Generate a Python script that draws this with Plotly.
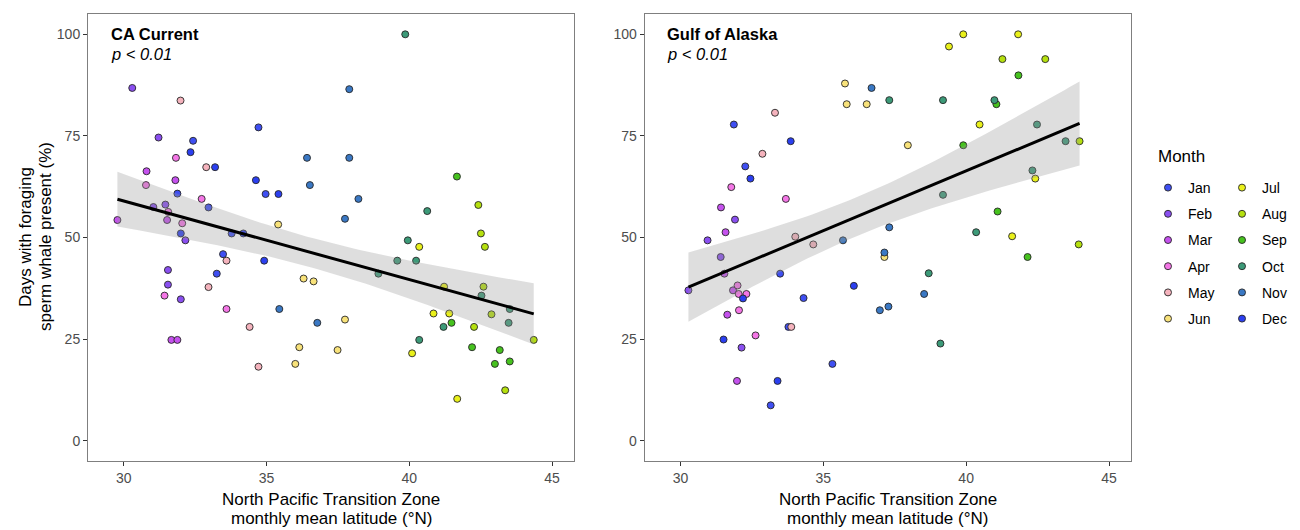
import numpy as np
import plotly.graph_objects as go

# ---------------- data ----------------
months = ["Jan", "Feb", "Mar", "Apr", "May", "Jun",
          "Jul", "Aug", "Sep", "Oct", "Nov", "Dec"]
month_colors = ["#3f4ff2", "#8a4ff0", "#c551ee", "#f476e6", "#f5b3bd", "#f8e27a",
                "#e9f01a", "#b5e00e", "#46c21e", "#3c9a78", "#3a78c4", "#2b3ff0"]

ca_lat = [30.30, 31.99, 31.22, 32.43, 32.34, 34.72, 31.83, 32.89, 33.20, 36.42,
          36.52, 30.80, 30.78, 31.81, 31.88, 32.73, 34.63, 34.97, 35.42, 32.97,
          31.04, 31.46, 31.56, 31.52, 32.05, 29.78, 35.41, 32.00, 32.16, 33.78,
          34.19, 33.48, 33.60, 34.92, 31.55, 33.26, 31.55, 32.97, 36.30, 36.65,
          31.43, 32.00, 33.60, 35.45, 36.78, 34.41, 31.67, 31.88, 36.15, 37.49,
          36.01, 34.72, 39.86, 37.90, 37.90, 41.67, 38.22, 42.42, 40.63, 37.75,
          42.51, 39.95, 40.35, 42.65, 39.58, 40.24, 38.92, 41.22, 42.60, 42.53,
          43.52, 42.88, 44.36, 37.75, 40.85, 41.40, 41.48, 41.20, 42.27, 43.48,
          40.35, 40.10, 42.20, 43.17, 43.00, 43.52, 43.36, 41.68]
ca_days = [86.8, 83.7, 74.6, 73.8, 71.0, 77.1, 69.6, 67.3, 67.3, 69.6,
           62.9, 66.3, 62.9, 64.1, 60.8, 59.5, 64.1, 60.7, 60.7, 57.4,
           57.5, 58.1, 56.3, 54.3, 53.5, 54.3, 53.2, 51.0, 49.3, 51.0,
           51.0, 45.9, 44.3, 44.3, 42.0, 41.1, 38.4, 37.8, 39.9, 39.2,
           35.7, 34.8, 32.4, 32.4, 29.0, 28.0, 24.8, 24.8, 23.0, 22.3,
           18.9, 18.2, 100.0, 86.5, 69.6, 65.0, 59.5, 58.0, 56.5, 54.6,
           51.0, 49.3, 47.7, 47.7, 44.3, 44.3, 41.1, 37.9, 37.9, 35.7,
           32.4, 31.1, 24.8, 29.8, 31.3, 31.3, 29.0, 28.0, 28.0, 29.0,
           24.8, 21.5, 23.0, 22.3, 18.9, 19.5, 12.4, 10.3]
ca_month = ["Feb", "May", "Feb", "Jan", "Dec", "Jan", "Apr", "May", "Dec", "Nov",
            "Nov", "Mar", "Apr", "Mar", "Jan", "Apr", "Dec", "Jan", "Dec", "Jan",
            "Feb", "Feb", "Apr", "Mar", "Apr", "Mar", "Jun", "Dec", "Feb", "Jan",
            "Dec", "Jan", "May", "Dec", "Feb", "Jan", "Feb", "May", "Jun", "Jun",
            "Apr", "Feb", "Apr", "Nov", "Nov", "May", "Mar", "Mar", "Jun", "Jun",
            "Jun", "May", "Oct", "Nov", "Nov", "Sep", "Nov", "Aug", "Oct", "Nov",
            "Aug", "Oct", "Jul", "Aug", "Oct", "Oct", "Oct", "Jul", "Aug", "Oct",
            "Oct", "Aug", "Aug", "Jun", "Jul", "Jul", "Sep", "Oct", "Aug", "Oct",
            "Oct", "Jul", "Sep", "Sep", "Sep", "Sep", "Aug", "Jul"]

goa_lat = [35.76, 36.69, 35.82, 36.52, 33.31, 31.87, 33.86, 32.87, 32.27, 32.45,
           31.78, 33.69, 31.42, 31.91, 31.58, 30.95, 31.41, 34.02, 34.65, 35.69,
           31.54, 33.49, 30.28, 31.84, 32.00, 32.04, 32.31, 32.19, 36.07, 34.31,
           36.98, 31.64, 32.05, 33.88, 33.78, 32.63, 31.51, 32.14, 35.32, 31.98,
           33.40, 33.16, 39.90, 41.82, 39.40, 41.27, 42.77, 41.83, 37.31, 39.19,
           40.99, 41.06, 40.47, 42.48, 37.96, 39.90, 43.48, 43.97, 42.32, 42.42,
           39.19, 41.10, 37.31, 40.35, 41.61, 43.94, 42.15, 37.14, 37.14, 38.69,
           38.53, 37.28, 39.10]
goa_days = [87.9, 86.8, 82.8, 82.8, 80.7, 77.8, 73.7, 70.6, 67.5, 64.5,
            62.4, 59.5, 57.4, 54.4, 51.3, 49.3, 45.2, 50.2, 48.3, 49.3,
            41.1, 41.1, 37.0, 37.0, 38.2, 36.1, 36.1, 35.0, 38.1, 35.1,
            32.1, 31.0, 32.1, 28.0, 28.0, 25.9, 24.9, 22.9, 18.9, 14.7,
            14.7, 8.7, 100.0, 100.0, 97.0, 93.9, 93.9, 89.9, 83.8, 83.8,
            83.8, 82.8, 77.8, 77.8, 72.7, 72.7, 73.7, 73.7, 66.5, 64.5,
            60.5, 56.4, 52.5, 51.3, 50.3, 48.3, 45.2, 46.3, 45.2, 41.2,
            36.1, 33.0, 23.9]
goa_month = ["Jun", "Nov", "Jun", "Jun", "May", "Jan", "Dec", "May", "Jan", "Dec",
             "Apr", "Apr", "Mar", "Feb", "Mar", "Feb", "Feb", "May", "May", "Nov",
             "Mar", "Jan", "Feb", "Mar", "Apr", "Apr", "Apr", "Dec", "Dec", "Jan",
             "Nov", "Mar", "Apr", "May", "Jan", "Apr", "Dec", "Feb", "Jan", "Mar",
             "Dec", "Jan", "Jul", "Jul", "Jul", "Aug", "Aug", "Sep", "Oct", "Oct",
             "Oct", "Sep", "Jul", "Oct", "Jun", "Sep", "Oct", "Aug", "Oct", "Jul",
             "Oct", "Sep", "Nov", "Oct", "Jul", "Aug", "Sep", "Nov", "Jun", "Oct",
             "Nov", "Nov", "Oct"]

panel_titles = ["CA Current", "Gulf of Alaska"]
p_labels = ["p < 0.01", "p < 0.01"]
x_ticks = [30, 35, 40, 45]
y_ticks = [0, 25, 50, 75, 100]

# ---------------- helpers ----------------
def t_quantile(df, z=1.959964):
    # Cornish-Fisher expansion of the Student t 97.5% quantile
    return (z + (z**3 + z) / (4 * df) + (5 * z**5 + 16 * z**3 + 3 * z) / (96 * df**2)
            + (3 * z**7 + 19 * z**5 + 17 * z**3 - 15 * z) / (384 * df**3))


def lm_fit(x, y, n_out=80):
    x = np.asarray(x, float)
    y = np.asarray(y, float)
    n = len(x)
    b, a = np.polyfit(x, y, 1)
    resid = y - (a + b * x)
    s = np.sqrt(np.sum(resid**2) / (n - 2))
    sxx = np.sum((x - x.mean())**2)
    xs = np.linspace(x.min(), x.max(), n_out)
    fit = a + b * xs
    se = s * np.sqrt(1.0 / n + (xs - x.mean())**2 / sxx)
    t = t_quantile(n - 2)
    return xs, fit, fit - t * se, fit + t * se


FONT = "Liberation Sans, Arial, Helvetica, sans-serif"
W, H = 1300, 530
ML, MR, MT, MB = 88, 169, 14, 69
PW = W - ML - MR
PH = H - MT - MB


def px_x(p):
    return (p - ML) / PW


def px_y(p):
    return (H - MB - p) / PH


fig = go.Figure()

panels = [(ca_lat, ca_days, ca_month, "x", "y"),
          (goa_lat, goa_days, goa_month, "x2", "y2")]

for pi, (lat, days, mon, xa, ya) in enumerate(panels):
    lat_a = np.array(lat)
    days_a = np.array(days)
    mon_a = np.array(mon)
    for mi, m in enumerate(months):
        sel = mon_a == m
        fig.add_trace(go.Scatter(
            x=lat_a[sel], y=days_a[sel], mode="markers", name=m,
            xaxis=xa, yaxis=ya,
            marker=dict(size=7, color=month_colors[mi],
                        line=dict(color="#262626", width=0.9)),
            legend="legend" if mi < 6 else "legend2",
            legendgroup=m, showlegend=(pi == 0), hoverinfo="skip"))
    xs, fit, lo, hi = lm_fit(lat, days)
    fig.add_trace(go.Scatter(
        x=np.concatenate([xs, xs[::-1]]), y=np.concatenate([hi, lo[::-1]]),
        mode="lines", fill="toself", fillcolor="rgba(153,153,153,0.32)",
        line=dict(width=0), xaxis=xa, yaxis=ya, showlegend=False, hoverinfo="skip"))
    fig.add_trace(go.Scatter(
        x=xs, y=fit, mode="lines", line=dict(color="black", width=3),
        xaxis=xa, yaxis=ya, showlegend=False, hoverinfo="skip"))

axis_common = dict(showgrid=False, zeroline=False, showline=True, mirror=True,
                   linecolor="#7f7f7f", linewidth=1, ticks="outside", ticklen=4,
                   tickwidth=1, tickcolor="#333333",
                   tickfont=dict(family=FONT, size=14, color="#4d4d4d"))

d1 = (0, px_x(574))
d2 = (px_x(644.7), 1)

fig.update_layout(
    width=W, height=H,
    margin=dict(l=ML, r=MR, t=MT, b=MB, autoexpand=False),
    paper_bgcolor="white", plot_bgcolor="white",
    font=dict(family=FONT, color="black"),
    xaxis=dict(domain=d1, range=[28.75, 45.77], tickvals=x_ticks, **axis_common),
    xaxis2=dict(domain=d2, range=[28.75, 45.77], tickvals=x_ticks, anchor="y2",
                **axis_common),
    yaxis=dict(domain=[0, 1], range=[-5, 105], tickvals=y_ticks, **axis_common),
    yaxis2=dict(domain=[0, 1], range=[-5, 105], tickvals=y_ticks, anchor="x2",
                **axis_common),
    legend=dict(x=px_x(1148), y=px_y(172), xanchor="left", yanchor="top",
                font=dict(family=FONT, size=14), tracegroupgap=5,
                bgcolor="rgba(0,0,0,0)"),
    legend2=dict(x=px_x(1222), y=px_y(172), xanchor="left", yanchor="top",
                 font=dict(family=FONT, size=14), tracegroupgap=5,
                 bgcolor="rgba(0,0,0,0)"),
    showlegend=True,
)

annotations = []
for pi, (dom, lx) in enumerate([(d1, 110), (d2, 666.7)]):
    cx = (dom[0] + dom[1]) / 2
    annotations.append(dict(text="North Pacific Transition Zone", x=cx, y=px_y(499.5),
                            xref="paper", yref="paper", showarrow=False,
                            xanchor="center", yanchor="middle",
                            font=dict(family=FONT, size=17, color="black")))
    annotations.append(dict(text="monthly mean latitude (°N)", x=cx, y=px_y(518.5),
                            xref="paper", yref="paper", showarrow=False,
                            xanchor="center", yanchor="middle",
                            font=dict(family=FONT, size=17, color="black")))
    annotations.append(dict(text="<b>" + panel_titles[pi] + "</b>", x=px_x(lx) - 1.5 / PW,
                            y=px_y(34), xref="paper", yref="paper", showarrow=False,
                            xanchor="left", yanchor="middle",
                            font=dict(family=FONT, size=16.5, color="black")))
    annotations.append(dict(text="<i>" + p_labels[pi] + "</i>", x=px_x(lx) - 1.5 / PW,
                            y=px_y(54), xref="paper", yref="paper", showarrow=False,
                            xanchor="left", yanchor="middle",
                            font=dict(family=FONT, size=16.5, color="black")))

annotations.append(dict(text="Days with foraging", x=px_x(25), y=px_y(237),
                        xref="paper", yref="paper", showarrow=False, textangle=-90,
                        xanchor="center", yanchor="middle",
                        font=dict(family=FONT, size=17, color="black")))
annotations.append(dict(text="sperm whale present (%)", x=px_x(45), y=px_y(237),
                        xref="paper", yref="paper", showarrow=False, textangle=-90,
                        xanchor="center", yanchor="middle",
                        font=dict(family=FONT, size=17, color="black")))
# legend title
annotations.append(dict(text="Month", x=px_x(1156), y=px_y(157),
                        xref="paper", yref="paper", showarrow=False,
                        xanchor="left", yanchor="middle",
                        font=dict(family=FONT, size=17, color="black")))
fig.update_layout(annotations=annotations)

fig.write_html("out.html", config={"displayModeBar": False},
               post_script="document.body.style.margin='0px';"
                           "document.body.style.overflow='hidden';")
